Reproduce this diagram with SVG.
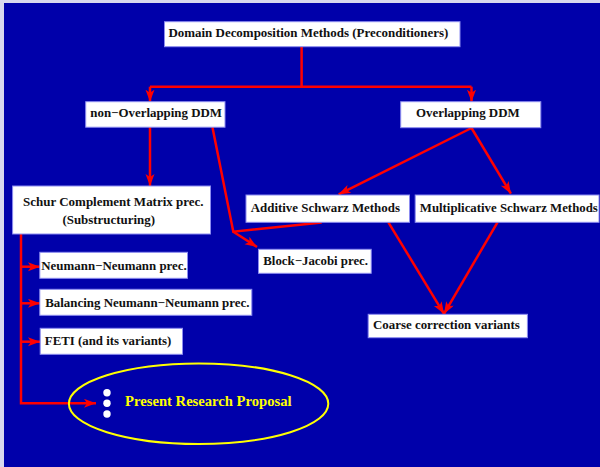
<svg xmlns="http://www.w3.org/2000/svg" width="600" height="467" viewBox="0 0 600 467">
<defs>
<style>
.box{fill:#ffffff;stroke:#8c8cf0;stroke-width:1}
.t{font-family:"Liberation Serif","Times New Roman",serif;font-weight:bold;font-size:12.5px;fill:#111111}
.c{fill:none;stroke:#ff0000;stroke-width:2.5;stroke-linejoin:miter}
.a{marker-end:url(#arr)}
</style>
<marker id="arr" markerUnits="userSpaceOnUse" markerWidth="14" markerHeight="10" refX="12" refY="4.5" orient="auto">
<path d="M0,0 L12,4.5 L0,9 L3,4.5 z" fill="#ff0000"/>
</marker>
</defs>
<rect x="0" y="0" width="600" height="467" fill="#d8d8ee"/>
<rect x="4" y="3" width="596" height="464" fill="#0000aa"/>
<g id="connectors">
<path class="c" d="M301.6,46.7 V86.7 M150,86.7 H471.5"/>
<path class="c a" d="M150,86.7 V101.7"/>
<path class="c a" d="M471.5,86.7 V101.7"/>
<path class="c a" d="M150,127 V186"/>
<path class="c" d="M212.4,127 L233.3,231.7 L321.7,222.5"/>
<path class="c a" d="M233.3,231.7 L257,247"/>
<path class="c a" d="M471.5,128 L338.7,194.3"/>
<path class="c a" d="M471.5,128 L510.9,193.7"/>
<path class="c a" d="M388.4,222.3 L444,313.8"/>
<path class="c a" d="M497.5,222.3 L444,313.8"/>
<path class="c a" d="M21,234 V403.3 H96"/>
<path class="c a" d="M21,266.7 H40"/>
<path class="c a" d="M21,303.3 H40"/>
<path class="c a" d="M21,341.7 H40"/>
</g>
<g id="n-root"><rect class="box" x="164.5" y="21.7" width="295.5" height="25"/><text class="t" x="168.4" y="37.3" textLength="280" lengthAdjust="spacingAndGlyphs">Domain Decomposition Methods (Preconditioners)</text></g>
<g id="n-nonoverlap"><rect class="box" x="85.7" y="101.7" width="139.3" height="25.5"/><text class="t" x="90.3" y="117.3" textLength="131.7" lengthAdjust="spacingAndGlyphs">non−Overlapping DDM</text></g>
<g id="n-overlap"><rect class="box" x="400.7" y="101.7" width="140.1" height="26"/><text class="t" x="416" y="117.3" textLength="103.7" lengthAdjust="spacingAndGlyphs">Overlapping DDM</text></g>
<g id="n-schur"><rect class="box" x="12.6" y="186" width="197.9" height="48"/><text class="t" x="23" y="206" textLength="180.6" lengthAdjust="spacingAndGlyphs">Schur Complement Matrix prec.</text><text class="t" x="62.4" y="224" textLength="92.6" lengthAdjust="spacingAndGlyphs">(Substructuring)</text></g>
<g id="n-additive"><rect class="box" x="246" y="195" width="163.5" height="27.3"/><text class="t" x="250.7" y="211.7" textLength="149.3" lengthAdjust="spacingAndGlyphs">Additive Schwarz Methods</text></g>
<g id="n-multiplicative"><rect class="box" x="415.2" y="195" width="183.8" height="27.3"/><text class="t" x="419.8" y="211.7" textLength="178" lengthAdjust="spacingAndGlyphs">Multiplicative Schwarz Methods</text></g>
<g id="n-blockjacobi"><rect class="box" x="258.5" y="249.3" width="112.7" height="24"/><text class="t" x="263.3" y="265" textLength="104.7" lengthAdjust="spacingAndGlyphs">Block−Jacobi prec.</text></g>
<g id="n-nn"><rect class="box" x="39.8" y="252.3" width="147.7" height="26"/><text class="t" x="41.3" y="270" textLength="145.5" lengthAdjust="spacingAndGlyphs">Neumann−Neumann prec.</text></g>
<g id="n-bnn"><rect class="box" x="39.8" y="289.3" width="212" height="26"/><text class="t" x="45.2" y="307.3" textLength="204.3" lengthAdjust="spacingAndGlyphs">Balancing Neumann−Neumann prec.</text></g>
<g id="n-feti"><rect class="box" x="40.2" y="328.3" width="142.3" height="26"/><text class="t" x="44.8" y="345" textLength="126.6" lengthAdjust="spacingAndGlyphs">FETI (and its variants)</text></g>
<g id="n-coarse"><rect class="box" x="368.2" y="314.3" width="159.2" height="23.4"/><text class="t" x="373" y="329.3" textLength="146.7" lengthAdjust="spacingAndGlyphs">Coarse correction variants</text></g>
<g id="n-proposal">
<ellipse cx="198.6" cy="403.7" rx="129.7" ry="40.3" fill="none" stroke="#ffff00" stroke-width="2"/>
<circle cx="107" cy="392.7" r="3.7" fill="#ffffff"/>
<circle cx="107" cy="403.3" r="3.7" fill="#ffffff"/>
<circle cx="107" cy="414" r="3.7" fill="#ffffff"/>
<text class="t" x="125.1" y="405.7" style="font-size:14.5px;fill:#ffff00" textLength="166.5" lengthAdjust="spacingAndGlyphs">Present Research Proposal</text>
</g>
</svg>
